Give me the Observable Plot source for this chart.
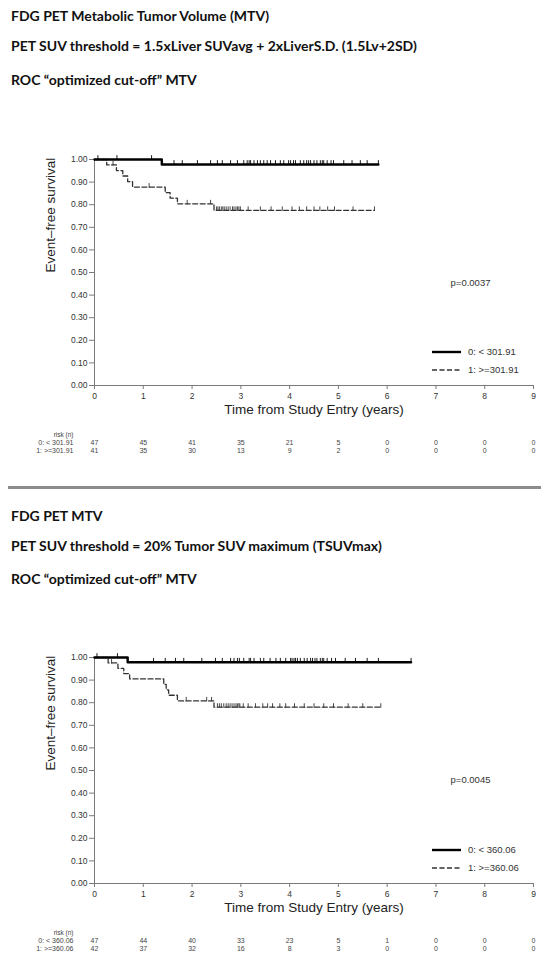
<!DOCTYPE html>
<html>
<head>
<meta charset="utf-8">
<script src="https://cdn.jsdelivr.net/npm/d3@7"></script>
<script src="https://cdn.jsdelivr.net/npm/@observablehq/plot@0.6"></script>
<style>
  body { margin: 0; background: #fff; }
  #page { position: relative; width: 541px; height: 979px; overflow: hidden; background: #fff; }
  .title { position: absolute; left: 11px; font-family: Lato, "Open Sans", sans-serif; font-weight: bold;
           font-size: 14px; line-height: 14px; color: #111; white-space: nowrap; }
  .panel { position: absolute; left: 0; width: 541px; }
  .legend { position: absolute; font-family: Arial, "Liberation Sans", sans-serif; font-size: 9.5px; color: #333; }
  .legend div { position: absolute; white-space: nowrap; line-height: 10px; }
  .rule { position: absolute; left: 8px; width: 533px; height: 3px; background: #8c8c8c; }
</style>
</head>
<body>
<div id="page"></div>
<script>
// Shared time grid for the numbers-at-risk table and the x ticks
const riskTimes = [0, 1, 2, 3, 4, 5, 6, 7, 8, 9];
const yTicks = [0, 0.1, 0.2, 0.3, 0.4, 0.5, 0.6, 0.7, 0.8, 0.9, 1.0];

// Panel A: 1.5 x liver SUVavg + 2 SD threshold, cut-off 301.91
const aTitles = ["FDG PET Metabolic Tumor Volume (MTV)",
                 "PET SUV threshold = 1.5xLiver SUVavg + 2xLiverS.D. (1.5Lv+2SD)",
                 "ROC \u201coptimized cut-off\u201d MTV"];
const aGroups = ["0: < 301.91", "1: >=301.91"];
const aPValue = "p=0.0037";
const aEventTimes0 = [1.38];
const aSurv0 = [0.978];
const aCensor0 = [0.07, 0.46, 1.17, 1.63, 1.80, 2.11, 2.38, 2.52, 2.62, 2.79, 2.93,
                  3.06, 3.13, 3.17, 3.20, 3.27, 3.34, 3.40, 3.47, 3.54, 3.61, 3.71, 3.81, 3.88, 3.98,
                  4.02, 4.08, 4.12, 4.22, 4.29, 4.35, 4.39, 4.43, 4.50, 4.56, 4.63, 4.67, 4.70, 4.77, 4.85, 4.90,
                  5.11, 5.28, 5.45, 5.59, 5.82];
const aEventTimes1 = [0.25, 0.45, 0.58, 0.68, 0.78, 1.45, 1.55, 1.70, 2.45];
const aSurv1 = [0.976, 0.951, 0.927, 0.902, 0.878, 0.853, 0.829, 0.804, 0.775];
const aCensor1 = [0.38, 1.12, 1.90, 2.38, 2.50, 2.53, 2.56, 2.60, 2.63, 2.66, 2.70, 2.74, 2.78, 2.83,
                  2.86, 2.90, 2.93, 2.96, 2.99, 3.15, 3.40, 3.62, 3.85, 4.05, 4.20, 4.35, 4.50, 4.62,
                  4.78, 4.92, 5.30, 5.74];
const aRisk0 = [47, 45, 41, 35, 21, 5, 0, 0, 0, 0];
const aRisk1 = [41, 35, 30, 13, 9, 2, 0, 0, 0, 0];

// Panel B: 20% of tumour SUVmax threshold, cut-off 360.06
const bTitles = ["FDG PET MTV",
                 "PET SUV threshold = 20% Tumor SUV maximum (TSUVmax)",
                 "ROC \u201coptimized cut-off\u201d MTV"];
const bGroups = ["0: < 360.06", "1: >=360.06"];
const bPValue = "p=0.0045";
const bEventTimes0 = [0.68];
const bSurv0 = [0.979];
const bCensor0 = [0.05, 0.47, 1.21, 1.45, 1.66, 1.83, 2.20, 2.48, 2.62, 2.79, 2.86, 2.93, 2.97,
                  3.06, 3.17, 3.20, 3.27, 3.40, 3.47, 3.60, 3.72, 3.81, 3.92,
                  4.02, 4.05, 4.09, 4.12, 4.16, 4.22, 4.30, 4.36, 4.43, 4.47, 4.52, 4.56, 4.63, 4.67, 4.70, 4.77, 4.86, 4.94,
                  5.14, 5.35, 5.59, 5.82, 6.49];
const bEventTimes1 = [0.28, 0.48, 0.60, 0.72, 1.42, 1.47, 1.52, 1.70, 2.45];
const bSurv1 = [0.976, 0.952, 0.929, 0.905, 0.881, 0.857, 0.833, 0.808, 0.780];
const bCensor1 = [0.35, 1.88, 2.30, 2.40, 2.52, 2.56, 2.60, 2.65, 2.70, 2.74, 2.78, 2.82, 2.86, 2.90,
                  2.93, 2.96, 2.98, 3.05, 3.15, 3.30, 3.45, 3.55, 3.65, 3.80, 3.92,
                  4.10, 4.30, 4.50, 4.70, 4.90, 5.20, 5.50, 5.87];
const bRisk0 = [47, 44, 40, 33, 23, 5, 1, 0, 0, 0];
const bRisk1 = [42, 37, 32, 16, 8, 3, 0, 0, 0, 0];

const FONT = "Arial, 'Liberation Sans', sans-serif";

// Kaplan–Meier step curve: starts at 1, drops at each event, runs to the last censoring
function curve(eventTimes, surv, censor) {
  const pts = [{t: 0, s: 1}];
  eventTimes.forEach((t, i) => pts.push({t, s: surv[i]}));
  pts.push({t: d3.max(censor), s: surv[surv.length - 1]});
  return pts;
}
function survAt(eventTimes, surv, t) {
  let s = 1;
  eventTimes.forEach((e, i) => { if (e <= t) s = surv[i]; });
  return s;
}
function censorPoints(eventTimes, surv, censor) {
  return censor.map(t => ({t, s: survAt(eventTimes, surv, t)}));
}

// Small vertical tick used for censored observations
const censorTick = {
  draw(ctx, size) {
    const r = Math.sqrt(size / Math.PI);
    ctx.moveTo(0, 0.5);
    ctx.lineTo(0, -r * 1.8);
  }
};

function panel(top, cfg) {
  const frameBottom = 226;
  const wrap = document.createElement("div");
  wrap.className = "panel";
  wrap.style.top = top + "px";

  const c0 = curve(cfg.e0, cfg.s0, cfg.c0);
  const c1 = curve(cfg.e1, cfg.s1, cfg.c1);
  const k0 = censorPoints(cfg.e0, cfg.s0, cfg.c0);
  const k1 = censorPoints(cfg.e1, cfg.s1, cfg.c1);
  const risk = riskTimes.map((t, i) => ({t, n0: cfg.r0[i], n1: cfg.r1[i]}));

  const chart = Plot.plot({
    width: 541,
    height: 310,
    marginTop: 9,
    marginBottom: 75,
    marginLeft: 94,
    marginRight: 8,
    style: {fontFamily: FONT, background: "transparent", color: "#333", overflow: "visible"},
    x: {domain: [0, 9]},
    y: {domain: [0, 1]},
    marks: [
      Plot.ruleX([0], {stroke: "#7a7a7a"}),
      Plot.ruleY([0], {stroke: "#7a7a7a"}),
      Plot.axisY({ticks: yTicks, tickFormat: d3.format(".2f"), tickSize: 5, tickPadding: 2,
                  fontSize: 8.5, stroke: "#7a7a7a", fill: "#333", label: null}),
      Plot.axisX({ticks: riskTimes, tickFormat: d => d, tickSize: 4, tickPadding: 3,
                  fontSize: 8.5, stroke: "#7a7a7a", fill: "#333", label: null}),
      Plot.line(c1, {x: "t", y: "s", curve: "step-after", stroke: "#333",
                     strokeWidth: 1.3, strokeDasharray: "5,2.5"}),
      Plot.line(c0, {x: "t", y: "s", curve: "step-after", stroke: "#000", strokeWidth: 2.4}),
      Plot.dot(k1, {x: "t", y: "s", symbol: censorTick, r: 2.2, fill: "none", stroke: "#333", strokeWidth: 0.9}),
      Plot.dot(k0, {x: "t", y: "s", symbol: censorTick, r: 2.4, fill: "none", stroke: "#000", strokeWidth: 0.9}),
      Plot.text([cfg.p], {text: d => d, frameAnchor: "right", dx: -63, dy: cfg.pdy,
                          textAnchor: "middle", fontSize: 9.5, fill: "#333"}),
      Plot.text(["Time from Study Entry (years)"], {text: d => d, frameAnchor: "bottom", dy: 28,
                          fontSize: 13.5, fill: "#222"}),
      Plot.text(["Event\u2013free survival"], {text: d => d, frameAnchor: "left", dx: -44,
                          rotate: -90, fontSize: 13.5, fill: "#222"}),
      // numbers at risk
      Plot.text(["risk (n)"], {text: d => d, frameAnchor: "bottom-left", dx: -21, dy: 51,
                          textAnchor: "end", fontSize: 6.5, fill: "#444"}),
      Plot.text([cfg.g[0]], {text: d => d, frameAnchor: "bottom-left", dx: -21, dy: 59,
                          textAnchor: "end", fontSize: 7, fill: "#444"}),
      Plot.text([cfg.g[1]], {text: d => d, frameAnchor: "bottom-left", dx: -21, dy: 67.5,
                          textAnchor: "end", fontSize: 7, fill: "#444"}),
      Plot.text(risk, {x: "t", text: "n0", frameAnchor: "bottom", dy: 59, fontSize: 7, fill: "#444"}),
      Plot.text(risk, {x: "t", text: "n1", frameAnchor: "bottom", dy: 67.5, fontSize: 7, fill: "#444"})
    ]
  });
  wrap.appendChild(chart);

  // legend in the lower-right corner of the plot area
  const lg = document.createElement("div");
  lg.className = "legend";
  lg.style.left = "0px";
  lg.style.top = "0px";
  const fb = 9 + frameBottom;
  lg.innerHTML = `
    <svg style="position:absolute;left:0;top:0;overflow:visible" width="541" height="310">
      <line x1="432" x2="461" y1="${fb - 33}" y2="${fb - 33}" stroke="#000" stroke-width="2.4"/>
      <line x1="432" x2="461" y1="${fb - 15}" y2="${fb - 15}" stroke="#333" stroke-width="1.3" stroke-dasharray="5,2.5"/>
    </svg>
    <div style="left:468px;top:${fb - 38}px">${cfg.g[0].replace("<", "&lt;")}</div>
    <div style="left:468px;top:${fb - 20}px">${cfg.g[1].replace(">", "&gt;")}</div>`;
  wrap.appendChild(lg);
  return wrap;
}

const page = document.getElementById("page");
function titles(list, baselines) {
  list.forEach((txt, i) => {
    const d = document.createElement("div");
    d.className = "title";
    d.textContent = txt;
    d.style.top = (baselines[i] - 11) + "px";
    page.appendChild(d);
  });
}

titles(aTitles, [20, 50, 84]);
page.appendChild(panel(150, {e0: aEventTimes0, s0: aSurv0, c0: aCensor0, e1: aEventTimes1, s1: aSurv1, c1: aCensor1,
                             r0: aRisk0, r1: aRisk1, g: aGroups, p: aPValue, pdy: 10}));
const rule = document.createElement("div");
rule.className = "rule";
rule.style.top = "486px";
page.appendChild(rule);
titles(bTitles, [520, 550, 583]);
page.appendChild(panel(648, {e0: bEventTimes0, s0: bSurv0, c0: bCensor0, e1: bEventTimes1, s1: bSurv1, c1: bCensor1,
                             r0: bRisk0, r1: bRisk1, g: bGroups, p: bPValue, pdy: 9}));
</script>
</body>
</html>
